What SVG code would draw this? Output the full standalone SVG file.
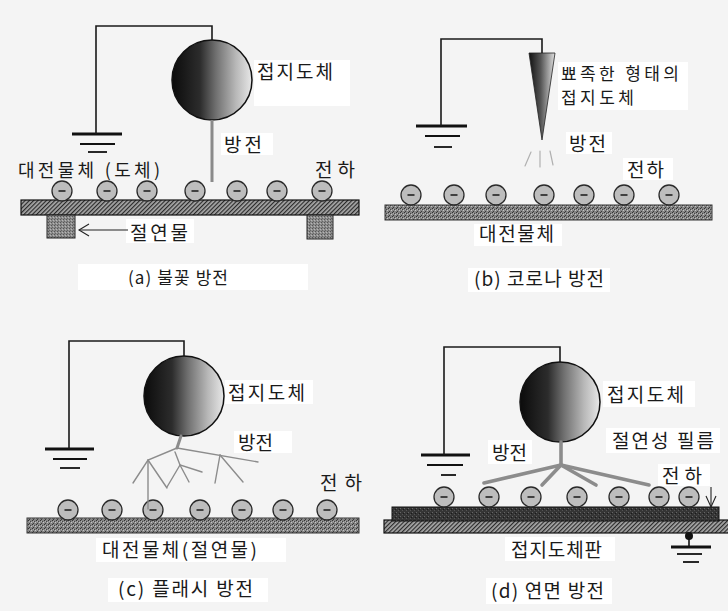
<svg xmlns="http://www.w3.org/2000/svg" xmlns:xlink="http://www.w3.org/1999/xlink" width="728" height="611" viewBox="0 0 728 611">
  <style>
    .lbl { font-family: "Noto Sans CJK KR", "Noto Sans", sans-serif; fill: #1a1a1a; }
    .big { font-size: 19px; }
    .mid { font-size: 18px; }
    .sml { font-size: 17px; }
    .cap { font-size: 17px; }
    .wire { fill: none; stroke: #1a1a1a; stroke-width: 1.6; }
    .gnd-top { stroke: #111; stroke-width: 3.2; }
    .gnd { stroke: #111; stroke-width: 1.8; }
    .spark { fill: none; stroke: #8c8c8c; stroke-linecap: round; }
    .box { fill: #ffffff; }
    .arrow { fill: none; stroke: #222; stroke-width: 1.1; }
  </style>
  <defs>
    <linearGradient id="sphereShade" x1="0" y1="0" x2="1" y2="0">
      <stop offset="0" stop-color="#0b0b0b"/>
      <stop offset="0.35" stop-color="#2c2c2c"/>
      <stop offset="0.55" stop-color="#707070"/>
      <stop offset="0.8" stop-color="#b8b8b8"/>
      <stop offset="1" stop-color="#e8e8e8"/>
    </linearGradient>
    <linearGradient id="coneShade" x1="0" y1="0" x2="1" y2="0">
      <stop offset="0" stop-color="#111"/>
      <stop offset="0.45" stop-color="#555"/>
      <stop offset="1" stop-color="#e0e0e0"/>
    </linearGradient>
    <pattern id="hatch" width="3" height="3" patternUnits="userSpaceOnUse" patternTransform="rotate(45)">
      <rect width="3" height="3" fill="#a8a8a8"/>
      <line x1="0.6" y1="0" x2="0.6" y2="3" stroke="#2a2a2a" stroke-width="1.2"/>
    </pattern>
    <pattern id="stipple" width="4" height="4" patternUnits="userSpaceOnUse">
      <rect width="4" height="4" fill="#858585"/>
      <rect x="0" y="0" width="1" height="1" fill="#333"/>
      <rect x="2" y="1" width="1" height="1" fill="#444"/>
      <rect x="1" y="3" width="1" height="1" fill="#3a3a3a"/>
      <rect x="3" y="2" width="1" height="1" fill="#c4c4c4"/>
      <rect x="1" y="1" width="1" height="1" fill="#b0b0b0"/>
    </pattern>
    <pattern id="stippleDark" width="4" height="4" patternUnits="userSpaceOnUse">
      <rect width="4" height="4" fill="#353535"/>
      <rect x="0" y="0" width="1" height="1" fill="#666"/>
      <rect x="2" y="2" width="1" height="1" fill="#555"/>
      <rect x="3" y="1" width="1" height="1" fill="#1a1a1a"/>
    </pattern>
    <pattern id="block" width="3" height="3" patternUnits="userSpaceOnUse">
      <rect width="3" height="3" fill="#8c8c8c"/>
      <rect x="0" y="0" width="1" height="1" fill="#555"/>
      <rect x="2" y="1" width="1" height="1" fill="#b5b5b5"/>
      <rect x="1" y="2" width="1" height="1" fill="#666"/>
    </pattern>
    <g id="charge">
      <circle r="10" fill="#bdbdbd" stroke="#2a2a2a" stroke-width="1.3"/>
      <line x1="-3.5" y1="0" x2="3.5" y2="0" stroke="#222" stroke-width="1.6"/>
    </g>
  </defs>

  <!-- page -->
  <rect width="728" height="611" fill="#f4f4f4"/>

  <!-- ===== (a) spark discharge ===== -->
  <g id="a-ground">
    <line class="gnd-top" x1="72" y1="134" x2="122" y2="134"/>
    <line class="gnd" x1="80" y1="144" x2="115" y2="144"/>
    <line class="gnd" x1="88" y1="152" x2="107" y2="152"/>
  </g>
  <g id="a-sphere">
    <circle cx="212" cy="80" r="40" fill="url(#sphereShade)" stroke="#111" stroke-width="1.5"/>
  </g>
  <g id="a-plate">
    <rect x="21" y="200" width="338" height="15" fill="url(#hatch)" stroke="#111" stroke-width="1.2"/>
  </g>
  <g id="a-insulators">
    <rect x="47" y="215" width="28" height="23" fill="url(#block)" stroke="#222" stroke-width="1"/>
    <rect x="307" y="215" width="26" height="24" fill="url(#block)" stroke="#222" stroke-width="1"/>
  </g>
  <g id="a-charges">
    <use href="#charge" x="62" y="191"/>
    <use href="#charge" x="107" y="191"/>
    <use href="#charge" x="147" y="191"/>
    <use href="#charge" x="195" y="191"/>
    <use href="#charge" x="237" y="191"/>
    <use href="#charge" x="277" y="191"/>
    <use href="#charge" x="322" y="191"/>
  </g>
  <g id="a-labels">
    <rect class="box" x="254" y="60" width="96" height="46"/>
    <text class="lbl big" x="257" y="79" textLength="76" lengthAdjust="spacing">접지도체</text>
    <rect class="box" x="221" y="133" width="52" height="22"/>
    <text class="lbl big" x="224" y="152" textLength="38" lengthAdjust="spacing">방전</text>
    <text class="lbl mid" x="18" y="177" textLength="142" lengthAdjust="spacing">대전물체 (도체)</text>
    <text class="lbl big" x="315" y="177" textLength="40" lengthAdjust="spacing">전하</text>
    <rect class="box" x="126" y="219" width="68" height="24"/>
    <text class="lbl big" x="130" y="240" textLength="58" lengthAdjust="spacing">절연물</text>
    <rect class="box" x="78" y="264" width="230" height="26"/>
    <text class="lbl cap" x="128" y="284" textLength="100" lengthAdjust="spacing">(a) 불꽃 방전</text>
  </g>

  <!-- ===== (b) corona discharge ===== -->
  <g id="b-ground">
    <line class="gnd-top" x1="416" y1="126" x2="467" y2="126"/>
    <line class="gnd" x1="425" y1="136" x2="460" y2="136"/>
    <line class="gnd" x1="434" y1="147" x2="452" y2="147"/>
  </g>
  <g id="b-needle">
    <polygon points="529,53 555,53 542,140" fill="url(#coneShade)" stroke="#222" stroke-width="0.8"/>
  </g>
  <g id="b-plate">
    <rect x="385" y="205" width="327" height="15" fill="url(#stipple)" stroke="#333" stroke-width="1"/>
  </g>
  <g id="b-charges">
    <use href="#charge" x="411" y="195"/>
    <use href="#charge" x="454" y="195"/>
    <use href="#charge" x="496" y="195"/>
    <use href="#charge" x="544" y="195"/>
    <use href="#charge" x="584" y="195"/>
    <use href="#charge" x="624" y="195"/>
    <use href="#charge" x="669" y="195"/>
  </g>
  <g id="b-labels">
    <rect class="box" x="558" y="62" width="130" height="48"/>
    <text class="lbl sml">
      <tspan x="561" y="80" textLength="118" lengthAdjust="spacing">뾰족한 형태의</tspan>
      <tspan x="561" y="104" textLength="73" lengthAdjust="spacing">접지도체</tspan>
    </text>
    <rect class="box" x="566" y="132" width="46" height="22"/>
    <text class="lbl big" x="569" y="151" textLength="37" lengthAdjust="spacing">방전</text>
    <rect class="box" x="623" y="158" width="50" height="22"/>
    <text class="lbl big" x="627" y="177" textLength="37" lengthAdjust="spacing">전하</text>
    <rect class="box" x="474" y="224" width="88" height="22"/>
    <text class="lbl big" x="479" y="241" textLength="75" lengthAdjust="spacing">대전물체</text>
    <rect class="box" x="468" y="268" width="142" height="24"/>
    <text class="lbl big" x="474" y="286" textLength="130" lengthAdjust="spacing">(b) 코로나 방전</text>
  </g>

  <!-- ===== (c) flash discharge ===== -->
  <g id="c-ground">
    <line class="gnd-top" x1="45" y1="449" x2="94" y2="449"/>
    <line class="gnd" x1="53" y1="459" x2="87" y2="459"/>
    <line class="gnd" x1="60" y1="468" x2="80" y2="468"/>
  </g>
  <g id="c-sphere">
    <circle cx="184" cy="396" r="40" fill="url(#sphereShade)" stroke="#111" stroke-width="1.5"/>
  </g>
  <g id="c-plate">
    <rect x="27" y="518" width="332" height="15" fill="url(#stipple)" stroke="#333" stroke-width="1"/>
  </g>
  <g id="c-charges">
    <use href="#charge" x="68" y="510"/>
    <use href="#charge" x="112" y="510"/>
    <use href="#charge" x="153" y="510"/>
    <use href="#charge" x="200" y="510"/>
    <use href="#charge" x="242" y="510"/>
    <use href="#charge" x="283" y="510"/>
    <use href="#charge" x="327" y="510"/>
  </g>
  <g id="c-labels">
    <rect class="box" x="225" y="380" width="88" height="24"/>
    <text class="lbl big" x="228" y="400" textLength="77" lengthAdjust="spacing">접지도체</text>
    <rect class="box" x="234" y="431" width="58" height="22"/>
    <text class="lbl big" x="238" y="450" textLength="35" lengthAdjust="spacing">방전</text>
    <text class="lbl big" x="320" y="490" textLength="42" lengthAdjust="spacing">전하</text>
    <rect class="box" x="96" y="538" width="190" height="24"/>
    <text class="lbl big" x="102" y="557" textLength="155" lengthAdjust="spacing">대전물체(절연물)</text>
    <rect class="box" x="108" y="578" width="160" height="24"/>
    <text class="lbl big" x="118" y="596" textLength="135" lengthAdjust="spacing">(c) 플래시 방전</text>
  </g>

  <!-- ===== (d) creeping discharge ===== -->
  <g id="d-ground">
    <line class="gnd-top" x1="421" y1="455" x2="470" y2="455"/>
    <line class="gnd" x1="427" y1="465" x2="463" y2="465"/>
    <line class="gnd" x1="441" y1="475" x2="456" y2="475"/>
  </g>
  <g id="d-sphere">
    <circle cx="560" cy="402" r="40" fill="url(#sphereShade)" stroke="#111" stroke-width="1.5"/>
  </g>
  <g id="d-plate">
    <rect x="384" y="520" width="350" height="13" fill="url(#hatch)" stroke="#111" stroke-width="1.2"/>
  </g>
  <g id="d-film">
    <rect x="392" y="507" width="327" height="14" fill="url(#stippleDark)" stroke="#111" stroke-width="1"/>
  </g>
  <g id="d-charges">
    <use href="#charge" x="444" y="497"/>
    <use href="#charge" x="489" y="497"/>
    <use href="#charge" x="531" y="497"/>
    <use href="#charge" x="577" y="497"/>
    <use href="#charge" x="619" y="497"/>
    <use href="#charge" x="659" y="497"/>
    <use href="#charge" x="689" y="497"/>
  </g>
  <g id="d-plate-ground">
    <line x1="689" y1="536" x2="689" y2="547" stroke="#111" stroke-width="1.6"/>
    <circle cx="689" cy="536" r="4" fill="#111"/>
    <line class="gnd-top" x1="671" y1="547" x2="711" y2="547"/>
    <line class="gnd" x1="677" y1="554" x2="702" y2="554"/>
    <line class="gnd" x1="683" y1="562" x2="699" y2="562"/>
  </g>
  <g id="d-labels">
    <rect class="box" x="603" y="381" width="92" height="26"/>
    <text class="lbl big" x="607" y="402" textLength="77" lengthAdjust="spacing">접지도체</text>
    <rect class="box" x="606" y="428" width="114" height="25"/>
    <text class="lbl big" x="612" y="448" textLength="102" lengthAdjust="spacing">절연성 필름</text>
    <rect class="box" x="488" y="440" width="44" height="24"/>
    <text class="lbl big" x="492" y="460" textLength="35" lengthAdjust="spacing">방전</text>
    <rect class="box" x="658" y="464" width="52" height="22"/>
    <text class="lbl big" x="662" y="483" textLength="40" lengthAdjust="spacing">전하</text>
    <rect class="box" x="505" y="537" width="110" height="24"/>
    <text class="lbl big" x="511" y="557" textLength="91" lengthAdjust="spacing">접지도체판</text>
    <rect class="box" x="486" y="578" width="126" height="26"/>
    <text class="lbl big" x="491" y="598" textLength="113" lengthAdjust="spacing">(d) 연면 방전</text>
  </g>

  <!-- ===== connectors: earth wires, discharge paths, pointers ===== -->
  <g id="connectors">
    <!-- earth wires -->
    <polyline class="wire" points="96,134 96,26 212,26 212,40"/>
    <polyline class="wire" points="441,126 441,39 542,39 542,53"/>
    <polyline class="wire" points="69,449 69,341 184,341 184,356"/>
    <polyline class="wire" points="444,455 444,347 560,347 560,362"/>

    <!-- (a) spark column -->
    <line x1="212" y1="120" x2="212" y2="182" stroke="#8a8a8a" stroke-width="3"/>

    <!-- (b) corona streaks -->
    <g stroke="#b0b0b0" stroke-width="1.2" stroke-linecap="round">
      <line x1="531" y1="152" x2="525" y2="166"/>
      <line x1="540" y1="151" x2="540" y2="167"/>
      <line x1="550" y1="151" x2="553" y2="165"/>
    </g>

    <!-- (c) branching flash -->
    <line class="spark" x1="181" y1="436" x2="177" y2="448" stroke-width="3"/>
    <g class="spark" stroke-width="1.4">
      <polyline points="177,448 258,462"/>
      <polyline points="177,448 148,460 133,483"/>
      <polyline points="148,460 167,488"/>
      <polyline points="148,460 148,509"/>
      <polyline points="175,452 180,465 202,472"/>
      <polyline points="180,465 189,482"/>
      <polyline points="180,465 167,487"/>
      <polyline points="220,455 215,483"/>
      <polyline points="220,455 243,482"/>
    </g>

    <!-- (d) creeping discharge -->
    <g class="spark" stroke-width="3.6" stroke-linecap="butt">
      <line x1="561" y1="442" x2="561" y2="465"/>
      <line x1="561" y1="465" x2="484" y2="483"/>
      <line x1="561" y1="465" x2="542" y2="485"/>
      <line x1="561" y1="465" x2="596" y2="485"/>
      <line x1="561" y1="465" x2="649" y2="485"/>
    </g>

    <!-- (a) pointer to insulator -->
    <line class="arrow" x1="79" y1="230" x2="128" y2="230"/>
    <polyline class="arrow" points="89,224 79,230 89,236"/>

    <!-- (d) pointer to film -->
    <line class="arrow" x1="711" y1="487" x2="711" y2="507"/>
    <polyline class="arrow" points="706,496 711,507 716,496"/>
  </g>
</svg>
